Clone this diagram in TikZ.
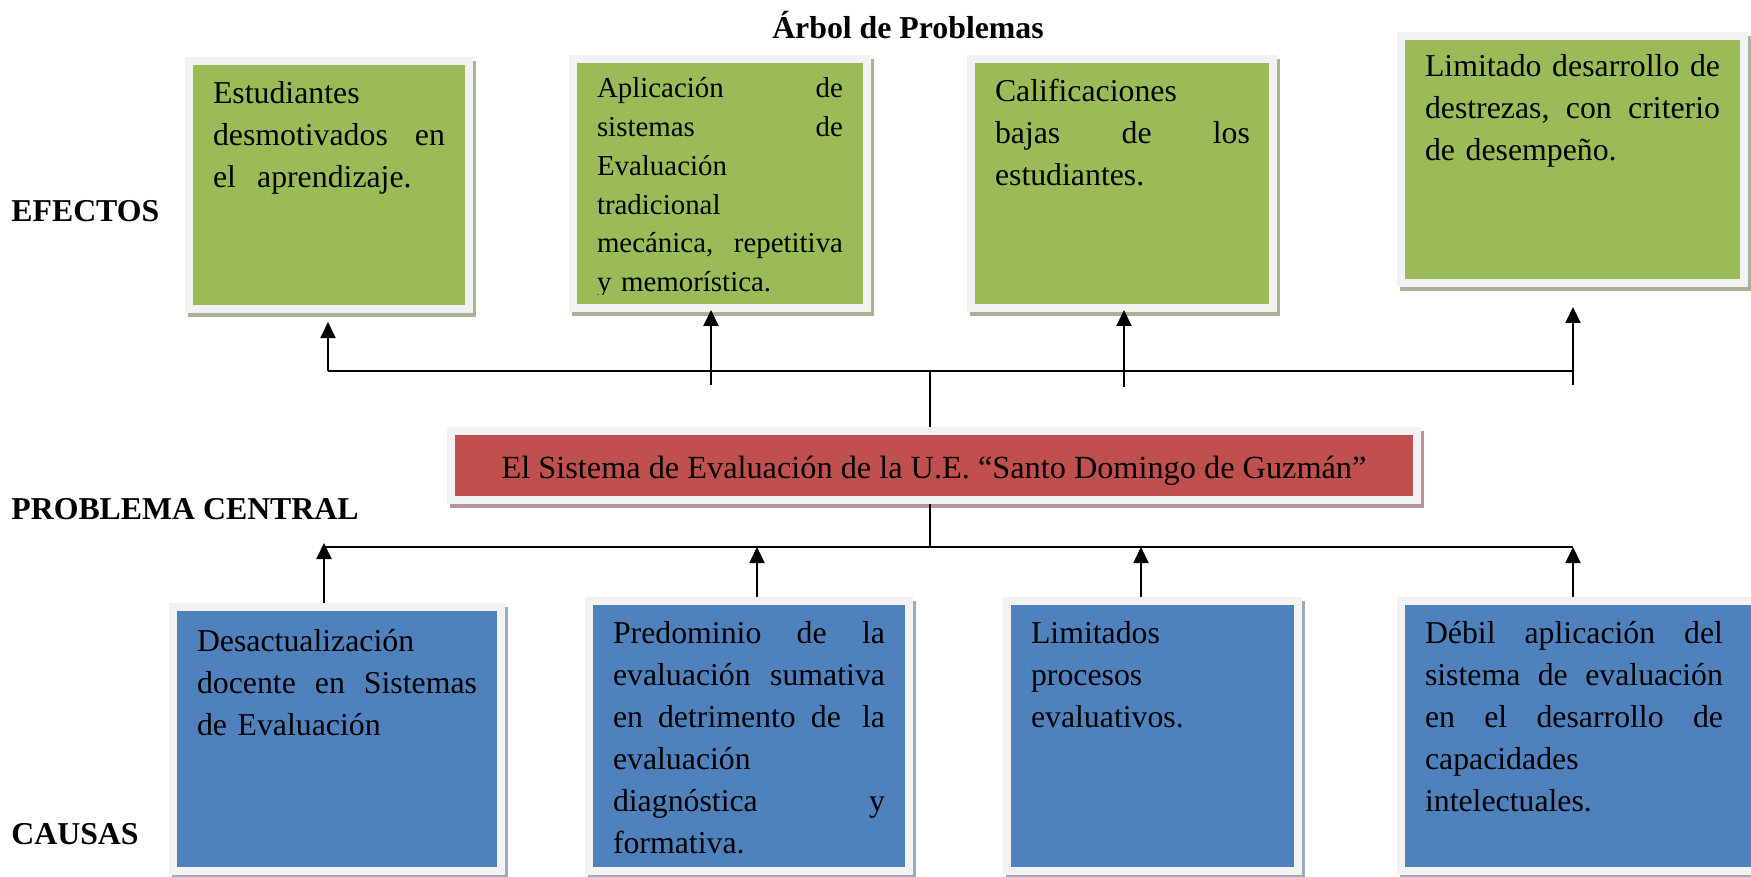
\documentclass[tikz,border=0pt]{standalone}
\usepackage{fontspec}
\setmainfont{Liberation Serif}
\usetikzlibrary{arrows.meta,fit}
\definecolor{gfill}{HTML}{9BBB59}
\definecolor{rfill}{HTML}{C0504D}
\definecolor{bfill}{HTML}{4F81BD}
\definecolor{framegray}{HTML}{F2F2F2}
\definecolor{gsh}{HTML}{A9B497}
\definecolor{rsh}{HTML}{B79494}
\definecolor{bsh}{HTML}{9DA9BE}
% justified line: words separated by \hfill, box width #1
\newcommand{\jl}[2]{\leavevmode\hbox to #1{#2}}
% name, x1, y1, x2, y2, fill style, shadow colour
\newcommand{\tribox}[7]{%
  \fill[#7] (#2+3,#3+4) rectangle (#4+3,#5+4);
  \node[frame, fit={(#2,#3) (#4,#5)}] (#1f) {};
  \node[#6, fit={(#2+8,#3+8) (#4-8,#5-8)}] (#1) {};
}
\begin{document}
\begin{tikzpicture}[x=0.5pt,y=-0.5pt,
  frame/.style={fill=framegray, draw=none, inner sep=0pt, outer sep=0pt},
  gbox/.style={fill=gfill, draw=none, inner sep=0pt, outer sep=0pt},
  rbox/.style={fill=rfill, draw=none, inner sep=0pt, outer sep=0pt},
  bbox/.style={fill=bfill, draw=none, inner sep=0pt, outer sep=0pt},
  txt/.style={anchor=base west, inner sep=0pt, outer sep=0pt,
    font=\fontsize{15.9pt}{21pt}\selectfont},
  lab/.style={inner sep=0pt, font=\fontsize{15.9pt}{19pt}\selectfont\bfseries},
  conn/.style={line width=0.7pt},
  arr/.style={line width=1pt, -{Triangle[length=8pt,width=7.5pt]}}]
\useasboundingbox[fill=white] (0,0) rectangle (1751,877);

% title and row labels
\node[lab, anchor=base] (title) at (908,39) {Árbol de Problemas};
\node[lab, anchor=base west] (lefe) at (11,222) {EFECTOS};
\node[lab, anchor=base west] (lpro) at (11,519) {PROBLEMA CENTRAL};
\node[lab, anchor=base west] (lcau) at (11,844) {CAUSAS};

% effects (green)
\tribox{g1}{185}{57}{473}{313}{gbox}{gsh}
\tribox{g2}{569}{55}{871}{312}{gbox}{gsh}
\tribox{g3}{967}{55}{1277}{312}{gbox}{gsh}
\tribox{g4}{1397}{32}{1748}{287}{gbox}{gsh}

\node[txt, text width=116pt] (g1t) at (213,104)
  {Estudiantes\\ \jl{116pt}{desmotivados\hfill en}\\ el\ \ aprendizaje.};
\begin{scope}
\clip (577,63) rectangle (863,295);
\node[txt, text width=123pt, font=\fontsize{14.45pt}{19.35pt}\selectfont] (g2t) at (597,98)
  {\jl{123pt}{Aplicación\hfill de}\\ \jl{123pt}{sistemas\hfill de}\\ Evaluación\\ tradicional\\ \jl{123pt}{mecánica,\hfill repetitiva}\\ y memorística.};
\end{scope}
\node[txt, text width=127.5pt] (g3t) at (995,102)
  {Calificaciones\\ \jl{127.5pt}{bajas\hfill de\hfill los}\\ estudiantes.};
\node[txt, text width=147.5pt] (g4t) at (1425,77)
  {\jl{147.5pt}{Limitado\hfill desarrollo\hfill de}\\ \jl{147.5pt}{destrezas,\hfill con\hfill criterio}\\ de desempeño.};

% central problem (red)
\tribox{c}{447}{427}{1421}{504}{rbox}{rsh}
\node[inner sep=0pt, anchor=base, font=\fontsize{16.15pt}{19pt}\selectfont] (ct) at (934,478)
  {El Sistema de Evaluación de la U.E. “Santo Domingo de Guzmán”};

% causes (blue)
\tribox{b1}{169}{603}{505}{875}{bbox}{bsh}
\tribox{b2}{585}{597}{913}{875}{bbox}{bsh}
\tribox{b3}{1003}{597}{1302}{875}{bbox}{bsh}
\tribox{b4}{1397}{597}{1760}{875}{bbox}{bsh}

\node[txt, text width=140pt] (b1t) at (197,651)
  {Desactualización\\ \jl{140pt}{docente\hfill en\hfill Sistemas}\\ de Evaluación};
\node[txt, text width=136pt] (b2t) at (613,643)
  {\jl{136pt}{Predominio\hfill de\hfill la}\\ \jl{136pt}{evaluación\hfill sumativa}\\ \jl{136pt}{en\hfill detrimento\hfill de\hfill\hspace{3pt}la}\\ evaluación\\ \jl{136pt}{diagnóstica\hfill y}\\ formativa.};
\node[txt, text width=120pt] (b3t) at (1031,643)
  {Limitados\\ procesos\\ evaluativos.};
\node[txt, text width=149pt] (b4t) at (1425,643)
  {\jl{149pt}{Débil\hfill aplicación\hfill del}\\ \jl{149pt}{sistema\hfill de\hfill evaluación}\\ \jl{149pt}{en\hfill el\hfill desarrollo\hfill de}\\ capacidades\\ intelectuales.};

% upper connectors
\coordinate (tl) at (328,371);
\coordinate (tm) at (930,371);
\coordinate (tr) at (1573,371);
\coordinate (e1) at (328,322);
\coordinate (e2) at (711,310);
\coordinate (e3) at (1124,310);
\coordinate (e4) at (1573,307);
\draw[conn] (tm) -- (tm |- cf.north);
\draw[conn] (tl) -- (tr);
\draw[arr] (tl) -- (e1);
\draw[arr] (711,385) -- (e2);
\draw[arr] (1124,387) -- (e3);
\draw[arr] (1573,385) -- (e4);

% lower connectors
\coordinate (bl) at (324,547);
\coordinate (bm) at (930,547);
\coordinate (br) at (1573,547);
\draw[conn] (bm |- cf.south) -- (bm);
\draw[conn] (bl) -- (br);
\draw[arr] (b1f.north -| bl) -- (324,543);
\draw[arr] (757,597) -- (757,547);
\draw[arr] (1141,597) -- (1141,547);
\draw[arr] (b4f.north -| br) -- (br);
\end{tikzpicture}
\end{document}
